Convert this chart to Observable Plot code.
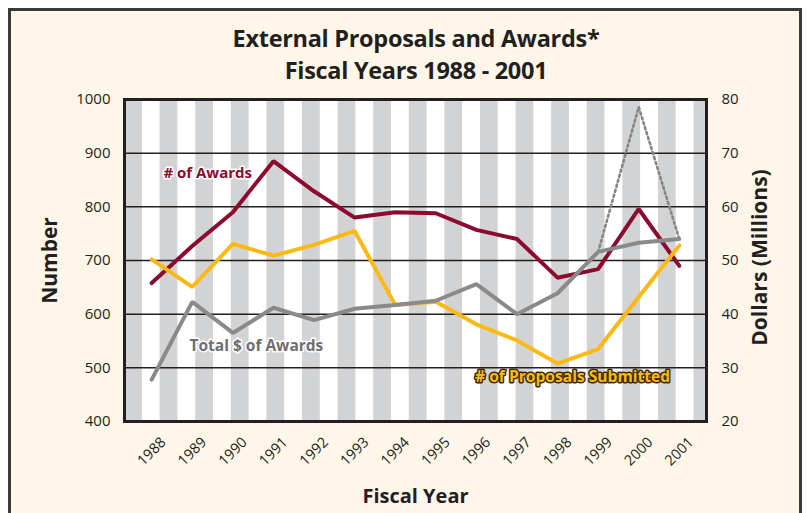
<!DOCTYPE html>
<html><head><meta charset="utf-8">
<script src="https://cdn.jsdelivr.net/npm/d3@7"></script>
<script src="https://cdn.jsdelivr.net/npm/@observablehq/plot@0.6"></script>
<style>
body{margin:0;background:#fff;width:807px;height:513px;overflow:hidden;position:relative;}
#box{position:absolute;left:8px;top:8px;width:788px;height:540px;border:3px solid #3a3a3a;background:#fdf6e9;}
#title{position:absolute;left:0;top:22px;width:832px;text-align:center;font:bold 23.5px "Open Sans";line-height:32px;color:#231f20;letter-spacing:-0.3px;}
#chart{position:absolute;left:0;top:0;}
</style></head><body>
<div id="box"></div>
<div id="title">External Proposals and Awards*<br>Fiscal Years 1988 - 2001</div>
<div id="chart"></div>
<script>
const years = [1988,1989,1990,1991,1992,1993,1994,1995,1996,1997,1998,1999,2000,2001];
const awards = [658,727,790,885,829,780,790,788,757,740,668,684,796,690];
const proposals = [702,651,731,709,729,755,617,623,581,551,508,535,632,728];
const dollars = [27.8,42.3,36.5,41.2,38.9,41.0,41.7,42.5,45.6,40.0,43.9,51.6,53.3,54.0];
const dottedYears = [1999,2000,2001];
const dottedDollars = [51.6,78.6,54.0];
const leftTicks = [400,500,600,700,800,900,1000];
const rightTicks = [20,30,40,50,60,70,80];
const gridValues = [500,600,700,800,900];
const seriesLabels = ["# of Awards","Total $ of Awards","# of Proposals Submitted"];
const labelX = [1989.38,1990.58,1998.37];
const labelY = [862,541,483];

const RED = "#8c0a2e", YEL = "#fdb913", GRY = "#8a8a8a";
const xDomain = [1987.33, 2001.67];
const toNum = d => 400 + (d - 20) * 10;
const toDol = n => (n - 400) / 10 + 20;

// decorative vertical stripes in the plot background
const period = 0.877;
const stripes = d3.range(17).map(k => ({x1: xDomain[0] + k*period, x2: Math.min(xDomain[0] + k*period + period/2, xDomain[1])}));

const rows = years.map((y,i)=>({year:y, awards:awards[i], proposals:proposals[i], dollars:dollars[i]}));
const dotted = dottedYears.map((y,i)=>({year:y, dollars:dottedDollars[i]}));
const labels = seriesLabels.map((t,i)=>({t, x:labelX[i], y:labelY[i]}));

const chart = Plot.plot({
  width: 807, height: 513,
  marginLeft: 124, marginRight: 101, marginTop: 99, marginBottom: 92,
  style: {background: "transparent", fontFamily: "Open Sans", color: "#231f20"},
  x: {domain: xDomain, axis: null},
  y: {domain: [400,1000], axis: null},
  marks: [
    Plot.rect([0], {x1: xDomain[0], x2: xDomain[1], y1: 400, y2: 1000, fill: "#ffffff"}),
    Plot.rect(stripes, {x1: "x1", x2: "x2", y1: 400, y2: 1000, fill: "#d1d3d4"}),
    Plot.ruleY(gridValues, {stroke: "#231f20", strokeWidth: 1.5}),
    Plot.line(dotted, {x: "year", y: d => toNum(d.dollars), stroke: "#858585", strokeWidth: 2.6, strokeDasharray: "2.2,3"}),
    Plot.line(rows, {x: "year", y: "awards", stroke: RED, strokeWidth: 4, strokeLinejoin: "miter"}),
    Plot.line(rows, {x: "year", y: "proposals", stroke: YEL, strokeWidth: 4, strokeLinejoin: "miter"}),
    Plot.line(rows, {x: "year", y: d => toNum(d.dollars), stroke: GRY, strokeWidth: 4, strokeLinejoin: "miter"}),
    Plot.frame({stroke: "#231f20", strokeWidth: 3}),
    Plot.axisY({ticks: leftTicks, tickFormat: d => String(d), anchor: "left", tickSize: 0, tickPadding: 14, fontSize: 15, label: null}),
    Plot.axisY({ticks: rightTicks.map(toNum), tickFormat: n => String(toDol(n)), anchor: "right", tickSize: 0, tickPadding: 15, fontSize: 15, label: null}),
    Plot.text(years, {x: d => d, frameAnchor: "bottom", lineAnchor: "middle", textAnchor: "middle", dy: 30, rotate: -45, fontSize: 14.5, text: d => String(d)}),
    Plot.text(["Number"], {frameAnchor: "left", textAnchor: "middle", dx: -74, rotate: -90, fontSize: 21, fontWeight: "bold"}),
    Plot.text(["Dollars (Millions)"], {frameAnchor: "right", textAnchor: "middle", dx: 54, dy: -3, rotate: -90, fontSize: 21, fontWeight: "bold"}),
    Plot.text(["Fiscal Year"], {frameAnchor: "bottom", lineAnchor: "middle", dy: 75, fontSize: 20, fontWeight: "bold"}),
    Plot.text(labels.slice(0,1), {x: "x", y: "y", text: "t", fill: RED, stroke: "white", strokeWidth: 3, fontSize: 15, fontWeight: "bold"}),
    Plot.text(labels.slice(1,2), {x: "x", y: "y", text: "t", fill: "#6d6e71", stroke: "white", strokeWidth: 3, fontSize: 15.5, fontWeight: "bold"}),
    Plot.text(labels.slice(2,3), {x: "x", y: "y", text: "t", fill: YEL, stroke: "#3a2a00", strokeWidth: 3, fontSize: 15.6, fontWeight: "bold"})
  ]
});
document.getElementById("chart").appendChild(chart);
</script>
</body></html>
